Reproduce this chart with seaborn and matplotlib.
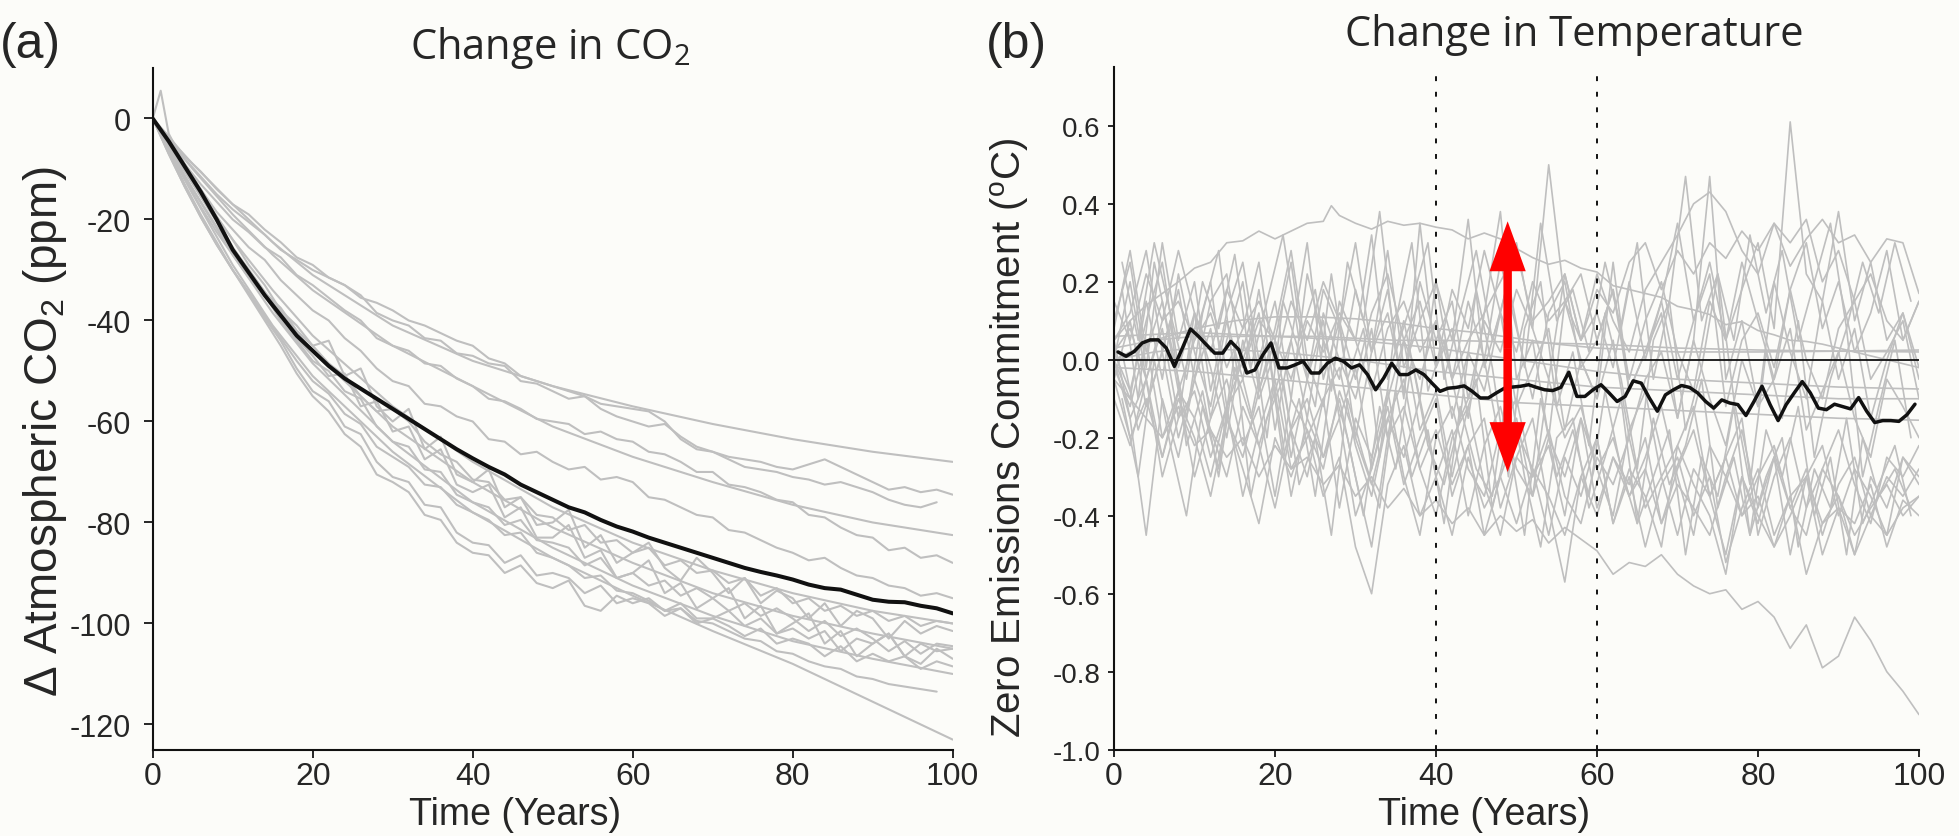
import numpy as np
import pandas as pd
import seaborn as sns
import matplotlib.pyplot as plt

# ---------------- Panel (a): change in atmospheric CO2 (ppm) ----------------
years_even = np.arange(0, 101, 2)        # 0, 2, ..., 100
years_even98 = np.arange(0, 100, 2)      # 0, 2, ..., 98
years_odd = np.arange(1, 100, 2)         # 1, 3, ..., 99
years_smooth = [0, 2, 5, 10, 15, 20, 30, 40, 50, 60, 70, 80, 90, 100]
years_spike = [0, 1] + list(range(2, 101, 2))

co2_smooth_1 = [0, -3.8, -9, -17, -24.5, -31, -41, -48, -53, -57, -60.5, -63.5, -66, -68]
co2_smooth_2 = [0, -4.2, -10, -19, -27, -34, -45, -53, -61, -67, -72, -76.5, -80, -82.5]
co2_smooth_3 = [0, -5.2, -12.5, -24, -34, -43, -57, -68, -77, -84, -89.5, -94, -97.5, -100]
co2_smooth_4 = [0, -5.5, -13, -25.5, -36.5, -46, -61, -72, -81, -88, -94, -98.5, -102, -105]
co2_smooth_5 = [0, -5.8, -14, -27, -38.5, -48.5, -64, -76, -85, -92.5, -98.5, -103.5, -107, -110]
co2_smooth_6 = [0, -6.2, -15, -29, -41, -51, -66, -78, -87, -94.5, -101.5, -108, -115.5, -123]

co2_noisy_1 = [0, -4, -8, -11.5, -15, -18, -20.5, -23, -26, -28,
               -30, -31.5, -33, -35.5, -36.5, -38, -40, -41, -42.5, -44,
               -45, -47.5, -48.5, -51, -52, -53, -54, -55, -56.5, -57,
               -57.5, -58, -60, -63.5, -65.5, -66, -67, -67.5, -68, -69,
               -69.5, -68.5, -67.5, -69, -70.5, -72, -73.5, -73, -74, -73.5,
               -74.5]
co2_noisy_2 = [0, -3.5, -7.5, -10.5, -14, -17, -19, -22, -24.5, -27.5,
               -29, -31.5, -33, -35, -38.5, -40, -41, -43.5, -44, -46.5,
               -47, -48.5, -49, -52, -52.5, -54, -55.5, -55, -57.5, -59,
               -60, -61, -60.5, -63, -65, -66, -67.5, -69, -69.5, -70,
               -71, -71.5, -72.5, -72, -73, -74, -75.5, -76.5, -77, -76]
co2_noisy_3 = [0, -4.5, -9, -13, -16.5, -20, -22.5, -25.5, -27.5, -31,
               -33, -35.5, -38, -40, -43.5, -45, -46, -48.5, -49, -51.5,
               -53, -55.5, -56, -57.5, -59.5, -60, -60.5, -62.5, -62, -63.5,
               -64, -66, -66.5, -68, -70, -70, -72.5, -73, -74, -75.5,
               -76, -78.5, -79, -81, -82.5, -83, -85.5, -85, -87, -86.5,
               -88]
co2_noisy_4 = [0, -5, -10, -14, -18.5, -22, -25.5, -28, -32, -35,
               -38, -40, -43.5, -46, -49.5, -52, -53, -56.5, -57, -59,
               -60, -63.5, -64, -66.5, -66, -68, -69.5, -69, -71.5, -71,
               -72, -75, -75.5, -77, -78.5, -79, -81.5, -82, -83.5, -85,
               -86, -87.5, -87, -89, -90.5, -91, -92.5, -93, -94.5, -94,
               -95]
co2_noisy_5 = [0, -6, -11.5, -16.5, -21.5, -26, -30, -34.5, -37.5, -42,
               -45, -44, -51, -49.5, -57, -60, -57.5, -65.5, -63, -70.5,
               -72, -69.5, -77, -75, -80.5, -80, -77.5, -85, -82.5, -88,
               -86, -84, -89, -91.5, -87, -90, -94, -91, -96, -93.5,
               -95, -99, -96, -100.5, -97.5, -99, -103, -99.5, -102, -100.5,
               -101.5]
co2_noisy_6 = [0, -6, -12, -17.5, -22.5, -27, -31.5, -35, -40, -44,
               -48, -50, -54, -55.5, -61, -64, -65, -69.5, -70, -74.5,
               -76, -77, -80.5, -79.5, -83.5, -84, -85, -88.5, -87, -91,
               -90, -92.5, -91.5, -94.5, -93, -95, -97.5, -96, -98.5, -97,
               -99, -101.5, -99.5, -102.5, -101, -103, -105.5, -103.5, -106, -104,
               -104.5]
co2_noisy_7 = [0, -7, -13.5, -19.5, -25, -30, -35, -40, -45, -50.5,
               -55, -58, -62.5, -65, -70.5, -72, -74, -78.5, -79.5, -84,
               -86, -86.5, -90, -88.5, -92, -93, -91.5, -96.5, -97.5, -94.5,
               -96, -95, -97.5, -96, -99, -99, -97.5, -100.5, -99, -102,
               -101, -103, -101.5, -105.5, -103, -104, -102, -106.5, -104, -105.5,
               -105]
co2_noisy_8 = [0, -6, -11.5, -16.5, -21.5, -26, -30.5, -34.5, -38.5, -43.5,
               -47, -51, -50.5, -57, -56, -62, -61, -67.5, -65.5, -72.5,
               -74, -72.5, -79, -77, -83, -83, -80.5, -87, -85.5, -91,
               -90, -87.5, -94, -92, -97, -95, -93, -99, -96.5, -102,
               -100, -98, -104, -101.5, -106.5, -104, -102, -106.5, -108, -105,
               -107]
co2_noisy_9 = [0, -6.5, -13, -19, -24.5, -30, -34.5, -39.5, -44, -49.5,
               -54, -56, -61, -62.5, -68, -71, -72, -76.5, -77, -82,
               -84, -84.5, -88, -86.5, -90.5, -90, -91, -94, -92.5, -96,
               -95, -96, -98.5, -97, -100, -99, -100.5, -102.5, -101, -104,
               -103, -104, -106.5, -104.5, -107.5, -106, -107.5, -106.5, -109, -107.5,
               -108.5]
co2_noisy_10 = [0, -7, -13.5, -19.5, -25, -30, -34.5, -39, -43.5, -48,
                -52, -54.5, -58.5, -60.5, -65, -67, -69, -72.5, -73, -76.5,
                -78, -79.5, -82.5, -82, -86, -87, -88.5, -91, -90.5, -93.5,
                -94, -95.5, -97.5, -97, -99.5, -100, -101.5, -103, -103.5, -105.5,
                -106, -107.5, -108.5, -109, -110.5, -111, -112, -112.5, -113, -113.5]
co2_noisy_11 = [0, 5.5,
                -3, -9, -14, -19.5, -24, -29, -33, -38, -41, -45,
                -48.5, -51, -55, -58, -57.5, -60, -64, -66.5, -68, -71.5,
                -72, -75.5, -75, -78.5, -79, -81.5, -80.5, -84, -83.5, -86,
                -85, -88.5, -87.5, -90, -89.5, -92, -91, -94.5, -93, -96,
                -95, -97.5, -96.5, -98.5, -97.5, -99.5, -98.5, -100.5, -99.5, -100]

co2_mean_years = np.arange(0, 101, 2)
co2_mean = [0, -4.5, -9.5, -14.5, -20, -26, -30.5, -35, -39, -43,
            -46, -49, -51.5, -53.5, -55.5, -57.5, -59.5, -61.5, -63.5, -65.5,
            -67.3, -69, -70.5, -72.5, -74, -75.5, -77, -78, -79.5, -80.8,
            -81.8, -83, -84, -85, -86, -87, -88, -89, -89.8, -90.5,
            -91.3, -92.3, -93, -93.3, -94.3, -95.3, -95.7, -95.8, -96.5, -97,
            -98]

# ---------------- Panel (b): zero emissions commitment (degC) ----------------
years_b_smooth = [0, 5, 10, 15, 20, 25, 30, 35, 40, 45, 50, 55, 60, 70, 80, 90, 100]
temp_smooth_1 = [0.00, 0.05, 0.08, 0.10, 0.11, 0.11, 0.105, 0.095, 0.08, 0.07, 0.055, 0.04, 0.03, 0.02, 0.02, 0.022, 0.025]
temp_smooth_2 = [0.03, 0.05, 0.06, 0.06, 0.06, 0.055, 0.05, 0.04, 0.03, 0.015, 0.0, -0.015, -0.03, -0.05, -0.06, -0.07, -0.075]
temp_smooth_3 = [0.0, 0.02, 0.03, 0.025, 0.02, 0.01, 0.0, -0.015, -0.03, -0.04, -0.05, -0.06, -0.07, -0.08, -0.09, -0.10, -0.10]
temp_smooth_4 = [-0.02, -0.025, -0.03, -0.04, -0.05, -0.06, -0.07, -0.08, -0.09, -0.10, -0.11, -0.115, -0.12, -0.13, -0.14, -0.15, -0.155]
temp_smooth_5 = [0.06, 0.065, 0.07, 0.065, 0.06, 0.06, 0.055, 0.05, 0.05, 0.048, 0.045, 0.042, 0.04, 0.03, 0.025, 0.022, 0.02]

years_top = [0, 2, 4, 6, 8, 10, 12, 14, 16, 18, 20, 22, 24, 26, 27, 28, 30, 32, 34, 36, 38,
             40, 42, 44, 46, 48, 50, 52, 54, 56, 58, 60, 62, 64, 66, 68, 70, 72, 74, 76, 78,
             80, 82, 84, 86, 88, 90, 92, 94, 96, 98, 100]
temp_top = [0.05, 0.10, 0.14, 0.17, 0.20, 0.235, 0.25, 0.30, 0.305, 0.33, 0.31, 0.33, 0.35, 0.355, 0.395, 0.37, 0.35, 0.335, 0.355, 0.345, 0.35,
            0.34, 0.333, 0.31, 0.325, 0.31, 0.285, 0.262, 0.245, 0.255, 0.235, 0.225, 0.19, 0.18, 0.17, 0.16, 0.137, 0.128, 0.116, 0.09, 0.098,
            0.075, 0.064, 0.05, 0.047, 0.04, 0.03, 0.02, 0.01, 0.0, -0.01, -0.02]

temp_noisy_1 = [0.05, 0.12, 0.28, 0.02, 0.18, -0.05, 0.15, 0.22, -0.02, 0.10,
                0.05, 0.25, -0.05, 0.18, 0.08, 0.30, 0.02, 0.12, -0.08, 0.20,
                0.05, 0.15, -0.10, 0.10, 0.02, 0.18, 0.08, -0.05, 0.22, 0.05,
                0.12, -0.02, 0.20, 0.00, 0.15, 0.35, 0.10, 0.25, 0.05, 0.18,
                0.30, 0.08, 0.61, 0.22, 0.15, 0.38, 0.10, 0.25, 0.05, 0.12,
                -0.05]
temp_noisy_2 = [0.02, 0.08, -0.05, 0.10, 0.15, 0.05, 0.12, -0.02, 0.08, 0.15,
                0.05, -0.05, 0.10, 0.02, 0.12, 0.05, -0.08, 0.08, 0.15, 0.02,
                0.10, -0.05, 0.05, 0.12, 0.20, 0.28, 0.10, 0.15, 0.22, 0.05,
                0.18, 0.12, 0.25, 0.30, 0.18, 0.28, 0.22, 0.30, 0.26, 0.33,
                0.28, 0.35, 0.24, 0.31, 0.36, 0.30, 0.32, 0.25, 0.31, 0.30,
                0.17]
temp_noisy_3 = [0.00, -0.10, 0.15, -0.05, 0.22, 0.02, -0.12, 0.10, -0.05, 0.18,
                -0.08, 0.05, -0.15, 0.12, 0.00, -0.10, 0.08, -0.20, 0.05, -0.05,
                0.10, -0.15, 0.02, -0.08, 0.12, -0.12, -0.02, 0.08, -0.18, 0.00,
                -0.10, 0.05, -0.20, -0.05, 0.02, -0.15, 0.05, -0.10, -0.22, 0.00,
                -0.12, -0.05, 0.08, -0.18, -0.08, 0.02, -0.15, -0.25, -0.05, -0.12,
                -0.20]
temp_noisy_4 = [0.10, 0.25, -0.02, 0.30, 0.05, 0.20, -0.08, 0.12, 0.25, 0.00,
                0.15, -0.10, 0.22, 0.05, -0.05, 0.18, 0.02, 0.28, -0.02, 0.10,
                0.20, -0.05, 0.15, 0.00, 0.25, 0.08, -0.10, 0.12, 0.20, -0.02,
                0.05, 0.18, -0.08, 0.02, 0.15, -0.05, 0.10, 0.22, -0.12, 0.05,
                0.12, -0.02, 0.18, 0.00, -0.10, 0.08, 0.15, -0.05, 0.02, 0.10,
                -0.10]
temp_noisy_5 = [-0.05, -0.20, -0.10, -0.25, -0.08, -0.30, -0.15, -0.05, -0.22, -0.12,
                -0.35, -0.10, -0.18, -0.28, -0.08, -0.20, -0.32, -0.15, -0.25, -0.10,
                -0.30, -0.18, -0.40, -0.22, -0.12, -0.28, -0.35, -0.20, -0.30, -0.15,
                -0.38, -0.25, -0.32, -0.20, -0.42, -0.28, -0.18, -0.35, -0.25, -0.40,
                -0.30, -0.22, -0.38, -0.28, -0.45, -0.32, -0.25, -0.40, -0.30, -0.35,
                -0.28]
temp_noisy_6 = [0.05, -0.15, -0.45, -0.10, -0.25, -0.05, -0.18, -0.30, -0.12, -0.22,
                -0.08, -0.35, -0.15, -0.25, -0.10, -0.30, -0.48, -0.20, -0.12, -0.28,
                -0.18, -0.32, -0.22, -0.15, -0.38, -0.25, -0.30, -0.18, -0.35, -0.42,
                -0.25, -0.32, -0.20, -0.38, -0.30, -0.45, -0.28, -0.35, -0.50, -0.30,
                -0.40, -0.48, -0.35, -0.55, -0.42, -0.38, -0.50, -0.40, -0.45, -0.38,
                -0.35]
temp_noisy_7 = [0.00, 0.20, -0.05, 0.08, -0.15, 0.12, -0.02, -0.20, 0.05, -0.10,
                0.02, -0.25, -0.05, 0.10, -0.15, -0.02, -0.28, -0.10, 0.05, -0.18,
                -0.08, -0.30, -0.12, 0.00, -0.22, -0.15, -0.35, -0.05, -0.20, -0.12,
                -0.28, -0.40, -0.18, -0.08, -0.30, -0.22, -0.12, -0.35, -0.25, -0.15,
                -0.45, -0.30, -0.20, -0.38, -0.28, -0.18, -0.32, -0.42, -0.25, -0.30,
                -0.22]
temp_noisy_8 = [-0.02, -0.12, 0.05, -0.20, -0.08, -0.15, -0.30, -0.12, -0.05, -0.22,
                -0.38, -0.18, -0.10, -0.25, -0.15, -0.40, -0.28, -0.12, -0.32, -0.20,
                -0.10, -0.35, -0.22, -0.45, -0.30, -0.18, -0.28, -0.45, -0.25, -0.35,
                -0.20, -0.42, -0.30, -0.48, -0.32, -0.25, -0.40, -0.30, -0.52, -0.38,
                -0.28, -0.45, -0.35, -0.30, -0.50, -0.38, -0.42, -0.32, -0.48, -0.36,
                -0.40]
temp_noisy_9 = [0.08, 0.28, 0.02, 0.15, -0.08, 0.05, 0.20, -0.12, 0.00, 0.12,
                -0.18, 0.05, 0.30, -0.05, 0.10, -0.20, 0.02, 0.18, -0.10, 0.35,
                -0.02, 0.08, -0.15, 0.12, 0.38, -0.05, 0.05, -0.20, 0.15, 0.00,
                -0.10, 0.25, -0.08, 0.02, 0.12, -0.15, 0.05, 0.47, -0.05, 0.10,
                -0.12, 0.20, 0.02, -0.10, 0.15, -0.05, 0.08, -0.15, 0.00, 0.12,
                -0.02]
temp_noisy_10 = [0.02, -0.08, 0.10, 0.25, -0.02, 0.12, -0.15, 0.05, 0.20, -0.08,
                 0.08, 0.28, 0.00, -0.12, 0.15, 0.05, 0.32, -0.05, 0.10, -0.10,
                 0.20, 0.05, 0.36, -0.02, 0.12, 0.30, 0.08, 0.50, 0.15, 0.22,
                 0.05, 0.18, -0.05, 0.10, 0.20, 0.02, -0.08, 0.15, 0.05, 0.25,
                 0.10, -0.05, 0.18, 0.30, 0.08, 0.20, 0.02, 0.12, 0.28, 0.05,
                 0.15]
temp_noisy_11 = [-0.10, -0.22, -0.05, -0.30, -0.15, -0.08, -0.25, -0.12, -0.35, -0.18,
                 -0.05, -0.28, -0.20, -0.10, -0.38, -0.15, -0.25, -0.08, -0.30, -0.45,
                 -0.20, -0.12, -0.28, -0.35, -0.18, -0.10, -0.30, -0.22, -0.40, -0.15,
                 -0.28, -0.20, -0.35, -0.25, -0.12, -0.30, -0.45, -0.22, -0.30, -0.18,
                 -0.38, -0.25, -0.50, -0.30, -0.22, -0.40, -0.28, -0.35, -0.45, -0.25,
                 -0.30]
temp_noisy_12 = [0.15, 0.05, 0.22, 0.10, 0.28, 0.12, 0.02, 0.18, 0.08, 0.25,
                 -0.02, 0.15, 0.05, 0.20, 0.10, -0.05, 0.12, 0.22, 0.05, 0.15,
                 -0.02, 0.18, 0.08, 0.28, 0.12, 0.02, 0.20, 0.10, 0.15, 0.05,
                 0.22, 0.10, 0.02, 0.18, 0.25, 0.32, 0.40, 0.43, 0.38, 0.28,
                 0.22, 0.35, 0.30, 0.36, 0.20, 0.28, 0.15, 0.22, 0.10, 0.05,
                 0.15]
temp_noisy_13 = [-0.05, 0.10, -0.12, 0.02, -0.20, -0.05, 0.08, -0.15, -0.25, -0.08,
                 0.05, -0.18, -0.30, -0.10, -0.02, -0.22, -0.35, -0.15, -0.05, -0.28,
                 -0.40, -0.20, -0.12, -0.32, -0.45, -0.25, -0.15, -0.38, -0.57, -0.30,
                 -0.20, -0.42, -0.28, -0.35, -0.48, -0.22, -0.32, -0.40, -0.55, -0.30,
                 -0.42, -0.25, -0.38, -0.45, -0.28, -0.35, -0.50, -0.30, -0.38, -0.25,
                 -0.32]
temp_noisy_14 = [0.00, -0.15, -0.05, -0.25, -0.10, -0.20, -0.35, -0.15, -0.28, -0.42,
                 -0.20, -0.30, -0.18, -0.35, -0.25, -0.48, -0.60, -0.32, -0.22, -0.40,
                 -0.30, -0.45, -0.25, -0.38, -0.30, -0.42, -0.28, -0.35, -0.45, -0.30,
                 -0.40, -0.25, -0.35, -0.28, -0.42, -0.32, -0.38, -0.45, -0.30, -0.40,
                 -0.35, -0.48, -0.40, -0.30, -0.42, -0.35, -0.45, -0.38, -0.32, -0.40,
                 -0.35]
temp_odd_1 = [0.18, -0.10, 0.25, 0.05, -0.15, 0.12, 0.28, -0.05, 0.10, -0.20,
              0.15, 0.02, -0.12, 0.22, -0.05, 0.08, -0.25, 0.10, 0.30, -0.08,
              0.05, -0.15, 0.18, -0.02, -0.30, 0.08, 0.20, -0.12, 0.02, -0.22,
              0.12, -0.05, -0.28, 0.05, 0.15, -0.18, -0.02, 0.22, -0.10, -0.32,
              0.02, -0.15, 0.10, -0.25, -0.05, 0.08, -0.30, -0.12, 0.05, -0.20]
temp_odd_2 = [-0.10, -0.30, 0.00, -0.22, -0.40, -0.12, -0.28, 0.02, -0.35, -0.15,
              -0.05, -0.32, -0.20, -0.45, -0.10, -0.25, -0.38, -0.08, -0.30, -0.18,
              -0.42, -0.12, -0.28, -0.35, -0.05, -0.30, -0.48, -0.20, -0.15, -0.38,
              -0.25, -0.10, -0.42, -0.30, -0.18, -0.50, -0.25, -0.35, -0.12, -0.45,
              -0.30, -0.20, -0.48, -0.28, -0.38, -0.15, -0.42, -0.32, -0.22, -0.40]
temp_odd_3 = [0.25, 0.05, 0.30, 0.12, -0.05, 0.20, 0.08, 0.27, -0.02, 0.15,
              0.32, 0.05, 0.18, -0.08, 0.25, 0.10, 0.38, 0.02, 0.15, 0.30,
              -0.05, 0.12, 0.28, 0.05, 0.20, -0.02, 0.35, 0.10, 0.18, 0.02,
              0.25, 0.08, 0.30, -0.05, 0.15, 0.47, 0.10, 0.22, 0.05, 0.32,
              0.12, 0.28, 0.05, 0.20, 0.35, 0.08, 0.25, 0.12, 0.30, 0.15]
temp_odd_4 = [0.02, -0.18, -0.05, 0.10, -0.22, -0.08, -0.30, -0.02, -0.15, 0.05,
              -0.25, -0.10, -0.35, -0.05, -0.20, -0.40, -0.12, -0.28, 0.00, -0.22,
              -0.32, -0.15, -0.05, -0.38, -0.20, -0.45, -0.10, -0.30, -0.18, -0.35,
              -0.08, -0.28, -0.42, -0.15, -0.32, -0.22, -0.05, -0.38, -0.25, -0.45,
              -0.18, -0.30, -0.12, -0.40, -0.25, -0.50, -0.20, -0.35, -0.28, -0.38]
temp_lowest = [-0.05, -0.10, -0.15, -0.20, -0.12, -0.22, -0.18, -0.25, -0.20, -0.30,
               -0.22, -0.28, -0.25, -0.32, -0.27, -0.35, -0.30, -0.38, -0.33, -0.40,
               -0.36, -0.42, -0.38, -0.45, -0.40, -0.44, -0.41, -0.47, -0.43, -0.46,
               -0.49, -0.55, -0.52, -0.53, -0.50, -0.55, -0.58, -0.60, -0.59, -0.64,
               -0.62, -0.66, -0.74, -0.68, -0.79, -0.76, -0.66, -0.72, -0.80, -0.85,
               -0.91]

temp_mean_years = np.arange(0.5, 100, 1.0)
temp_mean = [0.020, 0.009, 0.021, 0.043, 0.051, 0.051, 0.030, -0.017, 0.030, 0.079,
             0.060, 0.038, 0.017, 0.017, 0.047, 0.026, -0.034, -0.026, 0.013, 0.043,
             -0.021, -0.021, -0.013, -0.004, -0.034, -0.034, -0.009, 0.004, -0.004, -0.021,
             -0.013, -0.038, -0.077, -0.047, -0.009, -0.038, -0.038, -0.026, -0.038, -0.060,
             -0.081, -0.073, -0.071, -0.067, -0.081, -0.098, -0.098, -0.085, -0.073, -0.070,
             -0.068, -0.064, -0.071, -0.077, -0.079, -0.071, -0.032, -0.094, -0.094, -0.077,
             -0.064, -0.085, -0.107, -0.094, -0.054, -0.060, -0.098, -0.132, -0.090, -0.077,
             -0.066, -0.071, -0.085, -0.107, -0.124, -0.103, -0.111, -0.115, -0.143, -0.107,
             -0.068, -0.115, -0.156, -0.115, -0.085, -0.056, -0.085, -0.124, -0.128, -0.114,
             -0.120, -0.126, -0.097, -0.132, -0.161, -0.156, -0.156, -0.158, -0.141, -0.114]

yticks_b = [-1.0, -0.8, -0.6, -0.4, -0.2, 0.0, 0.2, 0.4, 0.6]
ytick_labels_b = ['-1.0', '-0.8', '-0.6', '-0.4', '-0.2', '0.0', '0.2', '0.4', '0.6']

# arrow (spread between 40 and 60 years)
arrow_year = 48.9
arrow_top = 0.355
arrow_bottom = -0.288
dashed_years = [40, 60]


def long_frame(series):
    parts = []
    for name, (xs, ys) in series.items():
        assert len(xs) == len(ys), name
        parts.append(pd.DataFrame({'run': name, 'year': xs, 'value': ys}))
    return pd.concat(parts, ignore_index=True)


co2_runs = long_frame({
    's1': (years_smooth, co2_smooth_1), 's2': (years_smooth, co2_smooth_2),
    's3': (years_smooth, co2_smooth_3), 's4': (years_smooth, co2_smooth_4),
    's5': (years_smooth, co2_smooth_5), 's6': (years_smooth, co2_smooth_6),
    'n1': (years_even, co2_noisy_1), 'n2': (years_even98, co2_noisy_2),
    'n3': (years_even, co2_noisy_3), 'n4': (years_even, co2_noisy_4),
    'n5': (years_even, co2_noisy_5), 'n6': (years_even, co2_noisy_6),
    'n7': (years_even, co2_noisy_7), 'n8': (years_even, co2_noisy_8),
    'n9': (years_even, co2_noisy_9), 'n10': (years_even98, co2_noisy_10),
    'n11': (years_spike, co2_noisy_11),
})
temp_runs = long_frame({
    's1': (years_b_smooth, temp_smooth_1), 's2': (years_b_smooth, temp_smooth_2),
    's3': (years_b_smooth, temp_smooth_3), 's4': (years_b_smooth, temp_smooth_4),
    's5': (years_b_smooth, temp_smooth_5), 'top': (years_top, temp_top),
    'n1': (years_even, temp_noisy_1), 'n2': (years_even, temp_noisy_2),
    'n3': (years_even, temp_noisy_3), 'n4': (years_even, temp_noisy_4),
    'n5': (years_even, temp_noisy_5), 'n6': (years_even, temp_noisy_6),
    'n7': (years_even, temp_noisy_7), 'n8': (years_even, temp_noisy_8),
    'n9': (years_even, temp_noisy_9), 'n10': (years_even, temp_noisy_10),
    'n11': (years_even, temp_noisy_11), 'n12': (years_even, temp_noisy_12),
    'n13': (years_even, temp_noisy_13), 'n14': (years_even, temp_noisy_14),
    'o1': (years_odd, temp_odd_1), 'o2': (years_odd, temp_odd_2),
    'o3': (years_odd, temp_odd_3), 'o4': (years_odd, temp_odd_4),
    'low': (years_even, temp_lowest),
})
assert len(co2_mean_years) == len(co2_mean)
assert len(temp_mean_years) == len(temp_mean)

# ---------------- style ----------------
W, H = 1959, 837
BG = '#fcfcf9'
GRAY = '#bfbfbf'
SANS = ['Liberation Sans', 'DejaVu Sans']
TITLE = ['Open Sans', 'DejaVu Sans']

sns.set_style('ticks')
plt.rcParams['font.family'] = SANS
plt.rcParams['axes.unicode_minus'] = False
plt.rcParams['axes.facecolor'] = BG
plt.rcParams['figure.facecolor'] = BG
plt.rcParams['savefig.facecolor'] = BG

fig = plt.figure(figsize=(W / 100, H / 100), dpi=100)
ax1 = fig.add_axes([152.7 / W, 1 - 750.7 / H, 800 / W, 681.7 / H])
ax2 = fig.add_axes([1114 / W, 1 - 750.7 / H, 805 / W, 682.4 / H])


def px(x, y):
    return x / W, 1 - y / H


# ---- (a) ----
sns.lineplot(data=co2_runs, x='year', y='value', units='run', estimator=None,
             color=GRAY, lw=1.5, ax=ax1, legend=False, zorder=2)
sns.lineplot(x=co2_mean_years, y=co2_mean, color='#111111', lw=2.9, ax=ax1, zorder=4)
ax1.set_xlim(0, 100)
ax1.set_ylim(-125, 10)
ax1.set_xticks([0, 20, 40, 60, 80, 100])
ax1.set_yticks([-120, -100, -80, -60, -40, -20, 0])
ax1.tick_params(axis='x', length=5.5, width=1.4, labelsize=23, pad=2.5)
ax1.tick_params(axis='y', length=6.5, width=1.4, labelsize=22, pad=9)

# ---- (b) ----
sns.lineplot(data=temp_runs, x='year', y='value', units='run', estimator=None,
             color=GRAY, lw=1.2, ax=ax2, legend=False, zorder=2)
ax2.axhline(0, color='#111111', lw=1.3, zorder=3)
for yr in dashed_years:
    ax2.axvline(yr, color='#111111', lw=1.4, ls=(0, (2.5, 5.5)), zorder=3)
sns.lineplot(x=temp_mean_years, y=temp_mean, color='#111111', lw=2.5, ax=ax2, zorder=4)
mid = 0.03
ax2.arrow(arrow_year, mid, 0, arrow_top - mid, width=1.05, head_width=4.5, head_length=0.128,
          length_includes_head=True, fc='#ff0000', ec='none', zorder=6)
ax2.arrow(arrow_year, mid, 0, arrow_bottom - mid, width=1.05, head_width=4.5, head_length=0.128,
          length_includes_head=True, fc='#ff0000', ec='none', zorder=6)
ax2.set_xlim(0, 100)
ax2.set_ylim(-1.0, 0.75)
ax2.set_xticks([0, 20, 40, 60, 80, 100])
ax2.set_yticks(yticks_b)
ax2.set_yticklabels(ytick_labels_b)
ax2.tick_params(axis='x', length=5, width=1.4, labelsize=23, pad=3)
ax2.tick_params(axis='y', length=4.5, width=1.4, labelsize=20, pad=5)

for ax in (ax1, ax2):
    sns.despine(ax=ax)
    for side in ('left', 'bottom'):
        ax.spines[side].set_linewidth(1.5)
        ax.spines[side].set_color('#111111')
    ax.set_xlabel('')
    ax.set_ylabel('')

# ---- texts ----
fig.text(*px(30, 45), '(a)', ha='center', va='center', fontsize=36)
fig.text(*px(1016, 45), '(b)', ha='center', va='center', fontsize=36)
fig.text(*px(550, 59), 'Change in CO$\\mathregular{_2}$', ha='center', va='baseline',
         fontsize=30, family=TITLE)
fig.text(*px(1574, 46), 'Change in Temperature', ha='center', va='baseline',
         fontsize=30, family=TITLE)
fig.text(*px(515, 815), 'Time (Years)', ha='center', va='center', fontsize=27)
fig.text(*px(1484, 815), 'Time (Years)', ha='center', va='center', fontsize=27)
fig.text(*px(45, 431), '\u0394 Atmospheric CO$\\mathregular{_2}$ (ppm)', ha='center', va='center',
         rotation=90, fontsize=33)
fig.text(*px(1010, 438), 'Zero Emissions Commitment ($\\mathregular{^o}$C)', ha='center', va='center',
         rotation=90, fontsize=29)

fig.savefig('out.png', dpi=100, facecolor=BG)
